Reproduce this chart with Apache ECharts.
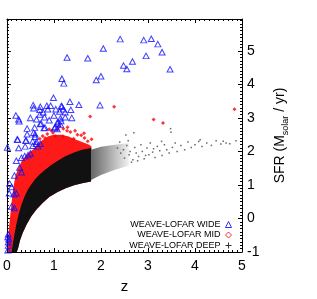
<!DOCTYPE html>
<html><head><meta charset="utf-8">
<script src="https://cdn.jsdelivr.net/npm/echarts@6/dist/echarts.min.js"></script>
<style>html,body{margin:0;padding:0;background:#fff}#c{width:317px;height:299px}</style>
</head><body><div id="c"></div>
<script>
// ---- tick values ----
const xTicks = [0, 1, 2, 3, 4, 5];
const yTicks = [-1, 0, 1, 2, 3, 4, 5];

// ---- WEAVE-LOFAR WIDE (blue triangles) [z, SFR] ----
const widePoints = [
  [1.28,4.80],[1.72,4.78],[2.05,5.07],[2.41,5.35],[2.91,5.32],[3.07,5.36],[3.21,5.20],[3.30,4.96],
  [2.96,4.85],[2.67,4.68],[2.48,4.56],[2.55,4.46],[3.47,4.45],[2.00,4.24],[1.90,4.13],[1.17,4.17],
  [1.21,4.03],[0.99,3.60],[1.34,3.48],[1.53,3.39],[1.98,3.38],[0.93,3.36],[1.16,3.36],[0.19,3.07],
  [0.25,2.96],[0.56,3.38],[0.57,3.29],[0.71,3.33],[0.50,3.00],[0.70,3.24],[0.77,3.17],[0.85,3.36],
  [0.87,3.26],[0.70,3.10],[0.63,2.96],[1.04,3.26],[1.17,3.33],[1.20,3.26],[1.12,3.19],[1.24,3.17],
  [1.36,3.24],[1.38,3.00],[1.24,3.02],[1.14,2.99],[1.08,2.88],[1.15,2.91],[1.00,3.07],[0.90,2.93],
  [0.80,3.02],[0.73,2.83],[0.81,2.71],[1.03,2.73],[1.07,2.67],[1.08,2.83],[0.59,2.71],[0.57,2.56],
  [0.60,2.44],[0.43,2.68],[0.41,2.33],[0.39,2.15],[0.23,2.35],[0.25,2.10],[0.01,2.12],[0.55,2.30],
  [0.62,2.23],[0.55,2.17],[0.66,2.15],[0.71,2.23],[0.50,1.94],[0.20,1.72],[0.31,1.81],[0.38,1.86],
  [0.45,1.89],[0.27,1.52],[0.31,1.38],[0.16,1.28],[0.06,1.04],[0.10,0.94],[0.20,0.75],[0.15,0.72],
  [0.05,0.75],[0.10,0.36],[0.16,0.31],[0.03,-0.47],[0.04,-0.61],[0.03,-0.81],[0.26,2.90],[0.22,2.36],
  [0.40,2.32],[0.79,2.70],[1.01,2.70],[1.14,2.80],[0.71,2.82],[0.63,2.29],[0.43,2.51],[0.60,2.51],
  [0.02,-0.55],[0.03,-0.70],[0.02,-0.95]
];

// ---- WEAVE-LOFAR MID (red) scattered points [z, SFR] ----
const midPoints = [
  [2.28,3.33],[3.12,2.95],[3.32,2.85],[4.84,3.26],[1.77,3.04],[1.64,2.54],[1.80,2.36],[1.42,2.38],
  [1.28,2.62],[1.19,2.45],[1.08,2.66],[1.03,2.45],[0.86,2.52],[0.81,2.40],[1.12,2.74],[1.29,2.72],
  [1.58,2.48],[0.95,2.62],[1.35,2.58],[1.50,2.50],[0.70,2.38],[0.90,2.66],[1.20,2.68],[1.45,2.62],
  [1.65,2.40],[1.72,2.30],[0.98,2.56],[0.76,2.46]
];
// dense MID band: upper edge (left to right)
const midUpperZ   = [0.02,0.03,0.05,0.08,0.11,0.14,0.18,0.24,0.32,0.42,0.55,0.65,0.75,0.88,1.00,1.15,1.30,1.45,1.60,1.75,1.80,1.80];
const midUpperSFR = [-1.0,-0.6,-0.2,0.2,0.6,0.95,1.25,1.5,1.72,1.9,2.05,2.2,2.33,2.45,2.5,2.5,2.45,2.36,2.28,2.2,2.15,2.0];

// ---- WEAVE-LOFAR DEEP (black) ----
// dense band: upper edge (left to right)
const deepUpperZ   = [0.10,0.13,0.16,0.20,0.25,0.31,0.38,0.45,0.52,0.60,0.70,0.80,0.95,1.10,1.25,1.43,1.60,1.79];
const deepUpperSFR = [-1.0,-0.72,-0.48,-0.18,0.12,0.42,0.67,0.87,1.02,1.17,1.32,1.44,1.60,1.74,1.86,1.97,2.05,2.10];
// dense band: lower edge (right to left)
const deepLowerZ   = [1.79,1.60,1.43,1.25,1.08,0.90,0.76,0.62,0.52,0.42,0.34,0.28,0.24,0.21];
const deepLowerSFR = [1.10,1.05,0.99,0.90,0.79,0.64,0.46,0.25,0.07,-0.18,-0.42,-0.65,-0.88,-1.0];
// sparse band beyond z~1.8
const deepSparseZ   = [1.79,2.00,2.30,2.60,2.60,2.30,2.00,1.79];
const deepSparseSFR = [2.05,2.14,2.20,2.25,1.58,1.45,1.30,1.15];
const deepPoints = [
  [2.35,2.10],[2.42,1.95],[2.48,2.05],[2.50,1.80],[2.55,2.18],[2.60,1.90],[2.62,2.00],[2.68,1.75],
  [2.72,2.12],[2.75,1.95],[2.80,1.85],[2.85,2.20],[2.88,2.00],[2.92,1.78],[2.98,2.10],[3.02,1.90],
  [3.05,2.25],[3.10,1.98],[3.15,1.82],[3.20,2.15],[3.25,2.02],[3.30,1.88],[3.35,2.20],[3.40,2.05],
  [3.45,1.95],[3.52,2.12],[3.58,2.25],[3.62,2.00],[3.70,2.18],[3.78,2.05],[3.85,2.28],[3.92,2.12],
  [4.00,2.20],[4.08,2.30],[4.15,2.15],[4.25,2.25],[4.35,2.18],[4.45,2.32],[4.55,2.22],[4.60,2.30],
  [4.66,2.25],[4.74,2.23],[4.87,2.32],[2.53,2.49],[2.70,2.56],[3.48,2.68],[3.49,2.57],[3.29,2.30],
  [4.11,2.35],[2.65,1.68],[2.78,1.72],[2.95,1.88],[3.12,2.08],[2.40,2.28],[2.58,2.32]
];

const zip = (a, b) => a.map((v, i) => [v, b[i]]);
const midPoly = zip(midUpperZ, midUpperSFR).concat(zip(deepLowerZ, deepLowerSFR));
const deepPoly = zip(deepUpperZ, deepUpperSFR).concat(zip(deepLowerZ, deepLowerSFR));
const sparsePoly = zip(deepSparseZ, deepSparseSFR);

function polygonSeries(name, pts, fill, z) {
  return {
    type: 'custom', name: name, silent: true, clip: true, z: z,
    data: [pts[0]],
    renderItem: function (params, api) {
      return { type: 'polygon', shape: { points: pts.map(p => api.coord(p)) }, style: { fill: fill } };
    }
  };
}

const FONT = 'Liberation Sans';
const chart = echarts.init(document.getElementById('c'), null, { renderer: 'canvas' });
const tickCommon = { show: true, inside: true, length: 4, lineStyle: { color: '#000', width: 1 } };
const minorCommon = { show: true, splitNumber: 10, length: 2, lineStyle: { color: '#000', width: 1 } };
const lineCommon = { show: true, onZero: false, lineStyle: { color: '#000', width: 1 } };

chart.setOption({
  animation: false,
  backgroundColor: '#fff',
  grid: { left: 5.5, right: 75, top: 19, bottom: 41, containLabel: false },
  xAxis: [
    { type: 'value', position: 'bottom', min: xTicks[0], max: xTicks[xTicks.length - 1], interval: 1,
      name: 'z', nameLocation: 'middle', nameGap: 27,
      nameTextStyle: { fontFamily: FONT, fontSize: 15, color: '#000' },
      axisLine: lineCommon, axisTick: tickCommon, minorTick: minorCommon,
      splitLine: { show: false },
      axisLabel: { fontFamily: FONT, fontSize: 14, color: '#000', margin: 7 } },
    { type: 'value', position: 'top', min: xTicks[0], max: xTicks[xTicks.length - 1], interval: 1,
      axisLine: lineCommon, axisTick: tickCommon, minorTick: minorCommon,
      splitLine: { show: false }, axisLabel: { show: false } }
  ],
  yAxis: [
    { type: 'value', position: 'right', min: yTicks[0], max: 5.95, interval: 1,
      name: 'SFR (M{sub|solar} / yr)', nameLocation: 'middle', nameGap: 21, nameRotate: 90,
      nameTextStyle: { fontFamily: FONT, fontSize: 14, color: '#000', verticalAlign: 'top', lineHeight: 20,
        rich: { sub: { fontFamily: FONT, fontSize: 9, color: '#000', verticalAlign: 'bottom', lineHeight: 20 } } },
      axisLine: lineCommon, axisTick: tickCommon, minorTick: minorCommon,
      splitLine: { show: false },
      axisLabel: { fontFamily: FONT, fontSize: 14, color: '#000', margin: 5,
        formatter: v => (yTicks.indexOf(v) >= 0 ? String(v) : '') } },
    { type: 'value', position: 'left', min: yTicks[0], max: 5.95, interval: 1,
      axisLine: lineCommon, axisTick: tickCommon, minorTick: minorCommon,
      splitLine: { show: false }, axisLabel: { show: false } }
  ],
  legend: {
    orient: 'vertical', right: 85, top: 220, align: 'right', padding: 0, itemGap: 1.5,
    itemWidth: 6, itemHeight: 6, selectedMode: false,
    textStyle: { fontFamily: FONT, fontSize: 9, color: '#000', lineHeight: 8.5 },
    data: [
      { name: 'WEAVE-LOFAR WIDE', icon: 'triangle', itemStyle: { color: 'rgba(0,0,0,0)', borderColor: '#0000ff', borderWidth: 1 } },
      { name: 'WEAVE-LOFAR MID', icon: 'diamond', itemStyle: { color: 'rgba(0,0,0,0)', borderColor: '#ff0000', borderWidth: 1 } },
      { name: 'WEAVE-LOFAR DEEP', icon: 'path://M2.5,0h1v2.5h2.5v1h-2.5v2.5h-1v-2.5h-2.5v-1h2.5z', itemStyle: { color: '#000' } }
    ]
  },
  series: [
    polygonSeries('midBand', midPoly, '#ff1a1a', 1),
    polygonSeries('deepBand', deepPoly, '#111', 2),
    polygonSeries('deepSparse', sparsePoly,
      new echarts.graphic.LinearGradient(0, 0, 1, 0, [{ offset: 0, color: '#666' }, { offset: 1, color: '#f2f2f2' }]), 2),
    { type: 'scatter', name: 'WEAVE-LOFAR DEEP', z: 3, data: deepPoints, symbol: 'rect', symbolSize: 1.5,
      itemStyle: { color: '#444' }, silent: true },
    { type: 'scatter', name: 'WEAVE-LOFAR MID', z: 4, data: midPoints, symbol: 'diamond', symbolSize: 4,
      itemStyle: { color: '#ff0000' }, silent: true },
    { type: 'scatter', name: 'WEAVE-LOFAR WIDE', z: 5, data: widePoints, symbol: 'triangle', symbolSize: [6, 5.5],
      itemStyle: { color: 'rgba(0,0,0,0)', borderColor: '#1010ff', borderWidth: 1 }, silent: true }
  ]
});
</script></body></html>
